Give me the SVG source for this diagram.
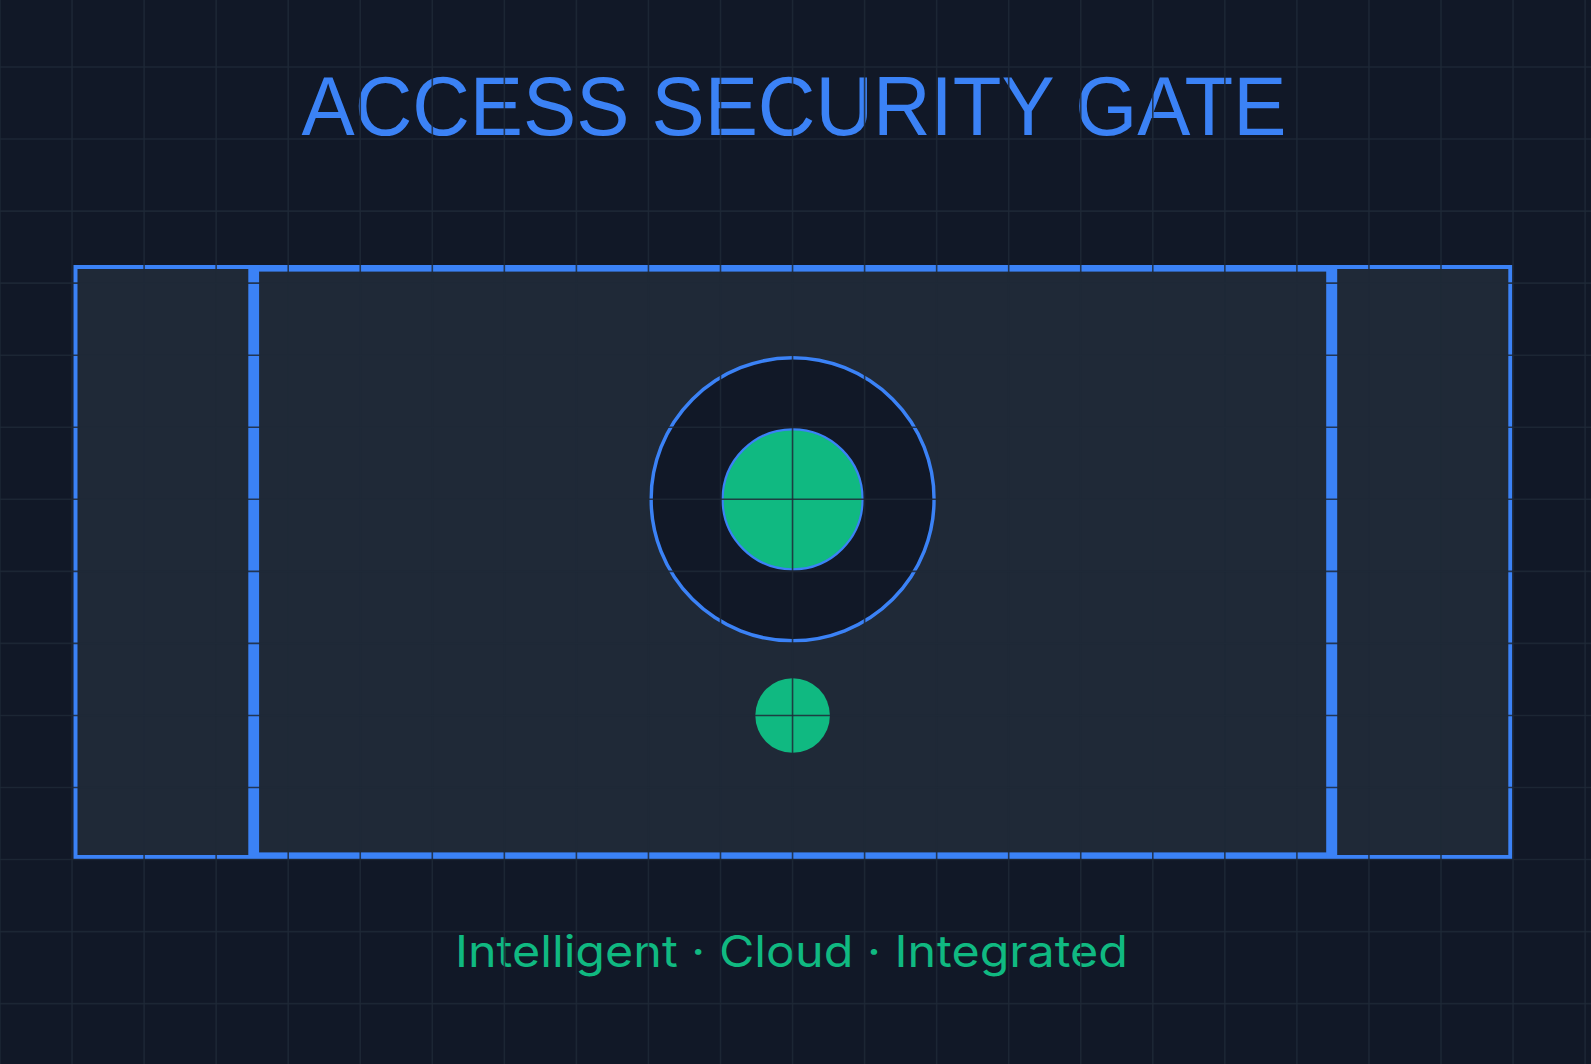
<svg xmlns="http://www.w3.org/2000/svg" width="1591" height="1064" viewBox="0 0 1591 1064">
  <style>
    .frame { fill: #1f2937; stroke: #3b82f6; stroke-width: 4; }
    .bar { fill: #3b82f6; }
    .green { fill: #10b981; }
    .grid { fill: none; stroke: #1f2937; stroke-opacity: 0.85; stroke-width: 1.6; }
    .title { font-family: "Liberation Sans", Arial, sans-serif; font-size: 84px; fill: #3b82f6; }
    .subtitle { font-family: Inter, "Liberation Sans", Arial, sans-serif; font-size: 44px; fill: #10b981; }
  </style>
  <rect x="0" y="0" width="1591" height="1064" fill="#111827"/>

  <g id="title">
    <text class="title" x="301.5" y="135" textLength="985" lengthAdjust="spacingAndGlyphs">ACCESS SECURITY GATE</text>
  </g>

  <g id="gate">
    <rect class="frame" x="75.5" y="267" width="1434.8" height="590"/>
    <rect class="frame" x="253.7" y="269.6" width="1078" height="584.8"/>
    <rect class="bar" x="248.3" y="266" width="10.8" height="592"/>
    <rect class="bar" x="1326.2" y="266" width="11" height="592"/>
  </g>

  <g id="scanner">
    <circle cx="792.6" cy="499.3" r="141.5" fill="#111827" stroke="#3b82f6" stroke-width="3.5"/>
    <circle class="green" cx="792.6" cy="499.4" r="70" stroke="#3b82f6" stroke-width="2.2"/>
  </g>

  <g id="indicator">
    <circle class="green" cx="792.6" cy="715.5" r="37.3"/>
  </g>

  <g id="subtitle">
    <text class="subtitle" x="455" y="967.3" textLength="673" lengthAdjust="spacingAndGlyphs">Intelligent · Cloud · Integrated</text>
  </g>

  <g id="grid">
    <path class="grid" d="M0,0V1064 M72.05,0V1064 M144.1,0V1064 M216.15,0V1064 M288.2,0V1064 M360.25,0V1064 M432.3,0V1064 M504.35,0V1064 M576.4,0V1064 M648.45,0V1064 M720.5,0V1064 M792.55,0V1064 M864.6,0V1064 M936.65,0V1064 M1008.7,0V1064 M1080.75,0V1064 M1152.8,0V1064 M1224.85,0V1064 M1296.9,0V1064 M1368.95,0V1064 M1441,0V1064 M1513.05,0V1064 M1585.1,0V1064"/>
    <path class="grid" d="M0,67H1591 M0,139.05H1591 M0,211.1H1591 M0,283.15H1591 M0,355.2H1591 M0,427.25H1591 M0,499.3H1591 M0,571.35H1591 M0,643.4H1591 M0,715.45H1591 M0,787.5H1591 M0,859.55H1591 M0,931.6H1591 M0,1003.65H1591"/>
  </g>
</svg>
